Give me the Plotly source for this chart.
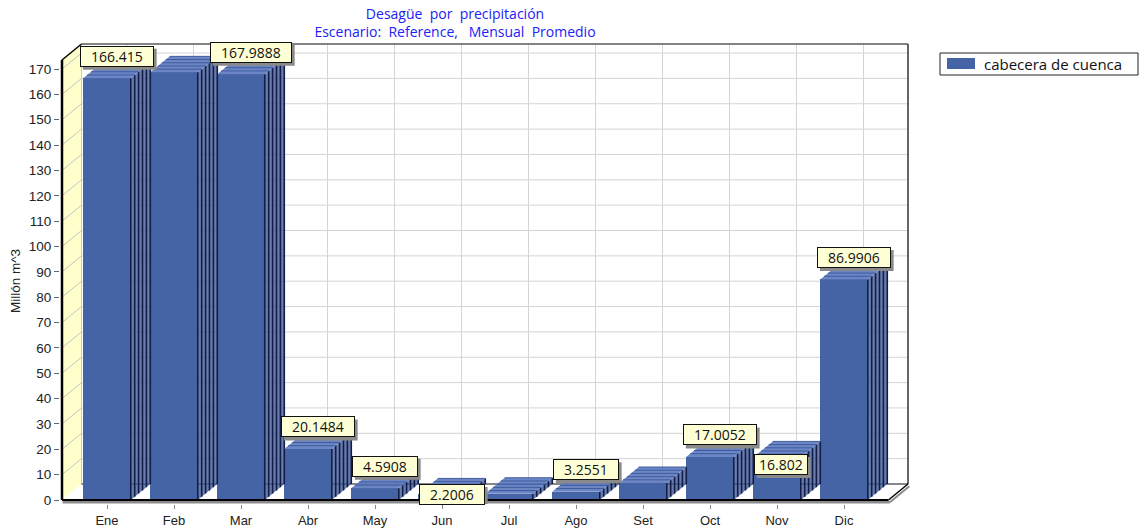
import plotly.graph_objects as go

# ---- data ----
months = ["Ene", "Feb", "Mar", "Abr", "May", "Jun", "Jul", "Ago", "Set", "Oct", "Nov", "Dic"]
values = [166.415, 168.7, 167.9888, 20.1484, 4.5908, 2.2006, 2.45, 3.2551, 6.7, 17.0052, 16.802, 86.9906]
labelled = [True, False, True, True, True, True, False, True, False, True, True, True]
y_ticks = list(range(0, 171, 10))
series_name = "cabecera de cuenca"
title_lines = ["Desagüe\u00a0 por\u00a0 precipitación",
               "Escenario:\u00a0 Reference,\u00a0\u00a0 Mensual\u00a0 Promedio"]
y_title = "Millón m^3"

# ---- geometry of the pseudo-3D box (axis units) ----
PX_PER_CAT = 67.0
PX_PER_UNIT = 2.535
DX = 19.5 / PX_PER_CAT          # depth shift along x
DY = 16.0 / PX_PER_UNIT         # depth shift along y
BAR_W = 0.71
N_LAYERS = 5
X0 = -45.0 / PX_PER_CAT                  # front-left corner
XBR = X0 + 846.0 / PX_PER_CAT            # back-right corner
XFR = XBR - DX                           # front-right corner
Y_TOP = 456.0 / PX_PER_UNIT              # top of back wall
WALL_FRONT_TOP = Y_TOP - DY
PAD_X = 2.0 / PX_PER_CAT
PAD_Y = 2.0 / PX_PER_UNIT
Y_BOTTOM = -4.0 / PX_PER_UNIT

BLUE = "#4464A5"
GRID = "#D4D4D4"

L_M, R_M, T_M, B_M = 60, 232, 42, 26
PLOT_W = 1142 - L_M - R_M
PLOT_H = 530 - T_M - B_M


def px_x(p):
    return (p - L_M) / PLOT_W


def px_y(p):
    return (530 - B_M - p) / PLOT_H


shapes = []


def seg(x0, y0, x1, y1, color, width, layer="below"):
    shapes.append(dict(type="line", xref="x", yref="y", x0=x0, y0=y0, x1=x1, y1=y1,
                       line=dict(color=color, width=width), layer=layer))


def poly(pts, fill, layer="below"):
    path = "M " + " L ".join(f"{x},{y}" for x, y in pts) + " Z"
    shapes.append(dict(type="path", xref="x", yref="y", path=path, fillcolor=fill,
                       line=dict(color=fill, width=0), layer=layer))


# left wall
poly([(X0, 0), (X0 + DX, DY), (X0 + DX, Y_TOP), (X0, WALL_FRONT_TOP)], "#FFFFCC")
# floor
poly([(X0, 0), (XFR, 0), (XBR, DY), (X0 + DX, DY)], "#FFFFFF")

# back wall grid
for v in y_ticks[1:]:
    seg(X0 + DX, v + DY, XBR, v + DY, GRID, 1)
    seg(X0, v, X0 + DX, v + DY, "#C4C4C4", 1)
for i in range(len(months)):
    seg(i + DX, DY, i + DX, Y_TOP, GRID, 1)
seg(X0 + DX, DY, X0 + DX, Y_TOP, "#C8C8C8", 1)

# back wall frame and floor back edge
seg(X0 + DX, Y_TOP, XBR, Y_TOP, "#5A5A5A", 1.5)
seg(XBR, DY, XBR, Y_TOP, "#333333", 1.5)
seg(X0 + DX, DY, XBR, DY, "#111111", 1.2)

# front edges (drawn over the bars)
seg(X0 + 0.3 * PAD_X, -0.9, XFR + 0.02, -0.9, "#8C8C8C", 2.5, "above")
seg(XFR + 0.02, -0.9, XBR + 0.02, DY - 0.9, "#8C8C8C", 2.0, "above")
seg(X0, 0, XFR, 0, "#000000", 2, "above")
seg(XFR, 0, XBR, DY, "#000000", 1.5, "above")
seg(X0, 0, X0, WALL_FRONT_TOP, "#000000", 2.5, "above")
seg(X0, WALL_FRONT_TOP, X0 + DX, Y_TOP, "#000000", 1.5, "above")

# legend box
shapes.append(dict(type="rect", xref="paper", yref="paper",
                   x0=px_x(940), x1=px_x(1138), y0=px_y(75), y1=px_y(53),
                   line=dict(color="#222222", width=1), fillcolor="white"))
shapes.append(dict(type="rect", xref="paper", yref="paper",
                   x0=px_x(947), x1=px_x(975), y0=px_y(69), y1=px_y(58),
                   line=dict(color=BLUE, width=0), fillcolor=BLUE))

fig = go.Figure()

# front faces
x_idx = list(range(len(months)))
fig.add_trace(go.Bar(x=x_idx, y=values, width=BAR_W, name=series_name,
                     marker=dict(color=BLUE, line=dict(width=0)), showlegend=False))

# side and top faces built from the same values
side_x, side_y, top_x, top_y = [], [], [], []
edge_x, edge_y, rim_x, rim_y = [], [], [], []
for i, v in enumerate(values):
    xl, xr = i - BAR_W / 2, i + BAR_W / 2
    side_x += [xr, xr + DX, xr + DX, xr, xr, None]
    side_y += [0, DY, v + DY, v, 0, None]
    top_x += [xl, xl + DX, xr + DX, xr, xl, None]
    top_y += [v, v + DY, v + DY, v, v, None]
    for k in range(N_LAYERS + 1):
        ox, oy = k * DX / N_LAYERS, k * DY / N_LAYERS
        edge_x += [xr + ox, xr + ox, None]
        edge_y += [oy, v + oy, None]
        if k > 0:
            rim_x += [xl + ox, xr + ox, None]
            rim_y += [v + oy, v + oy, None]

fig.add_trace(go.Scatter(x=side_x, y=side_y, mode="lines", fill="toself",
                         fillcolor="rgba(60,88,150,0.78)", line=dict(width=0),
                         hoverinfo="skip", showlegend=False))
fig.add_trace(go.Scatter(x=edge_x, y=edge_y, mode="lines",
                         line=dict(color="#141C48", width=1.6),
                         hoverinfo="skip", showlegend=False))
fig.add_trace(go.Scatter(x=top_x, y=top_y, mode="lines", fill="toself",
                         fillcolor="rgba(96,124,192,0.92)", line=dict(width=0),
                         hoverinfo="skip", showlegend=False))
fig.add_trace(go.Scatter(x=rim_x, y=rim_y, mode="lines",
                         line=dict(color="#3E5C9E", width=1),
                         hoverinfo="skip", showlegend=False))

# value labels with a drop shadow
LABEL_H = 17
LABEL_FONT = 14
label_shift = {5: (0, -8), 10: (-6, -15)}
annotations = []
for i, (v, show) in enumerate(zip(values, labelled)):
    if not show:
        continue
    txt = str(v)
    xs, ys = label_shift.get(i, (0, 14))
    digits = sum(c.isdigit() for c in txt)
    w = 8.0 * digits + 3.8 + (6 if i == 10 else 18)
    ax, ay = i + DX / 2, v + DY / 2
    half_w, half_h = w / 2 + 2, LABEL_H / 2 + 2
    shapes.append(dict(type="rect", xref="x", yref="y", xsizemode="pixel", ysizemode="pixel",
                       xanchor=ax, yanchor=ay, layer="above",
                       x0=xs + 3 - half_w, x1=xs + 3 + half_w,
                       y0=ys - 3 - half_h, y1=ys - 3 + half_h,
                       fillcolor="#8A8A8A", line=dict(width=0)))
    annotations.append(dict(x=ax, y=ay, xref="x", yref="y", showarrow=False,
                            text=txt, xshift=xs, yshift=ys, width=w, height=LABEL_H,
                            borderpad=1, borderwidth=1, bgcolor="#FFFFD6",
                            bordercolor="#111111",
                            font=dict(family="Open Sans", size=LABEL_FONT, color="#111111")))

# legend text and axis title
annotations.append(dict(text=series_name, xref="paper", yref="paper", x=px_x(982), y=px_y(64),
                        xanchor="left", yanchor="middle", showarrow=False,
                        font=dict(family="Open Sans", size=15, color="#111111")))
annotations.append(dict(text=y_title, xref="paper", yref="paper", x=px_x(15), y=px_y(281),
                        xanchor="center", yanchor="middle", textangle=-90, showarrow=False,
                        font=dict(family="Liberation Sans, Arial", size=13.5, color="#222222")))

fig.update_layout(
    width=1142, height=530,
    margin=dict(l=L_M, r=R_M, t=T_M, b=B_M, autoexpand=False),
    paper_bgcolor="white", plot_bgcolor="white",
    showlegend=False,
    title=dict(text="<br>".join(title_lines), xref="container", yref="container",
               x=455 / 1142, y=1 - 19 / 530, xanchor="center", yanchor="middle",
               font=dict(family="Open Sans", size=14, color="#2121F5")),
    xaxis=dict(range=[X0 - PAD_X, XBR + PAD_X], tickmode="array", tickvals=x_idx,
               ticktext=months, ticks="outside", ticklen=4, tickcolor="#888888",
               showgrid=False, zeroline=False, showline=False, fixedrange=True,
               automargin=False,
               tickfont=dict(family="Liberation Sans, Arial", size=13, color="#222222")),
    yaxis=dict(range=[Y_BOTTOM, Y_TOP + PAD_Y], tickmode="array", tickvals=y_ticks,
               ticks="outside", ticklen=5, tickcolor="#666666",
               showgrid=False, zeroline=False, showline=False, fixedrange=True,
               automargin=False,
               tickfont=dict(family="Liberation Sans, Arial", size=13.5, color="#222222")),
    shapes=shapes,
    annotations=annotations,
    bargap=0,
)

fig.write_html("out.html")
